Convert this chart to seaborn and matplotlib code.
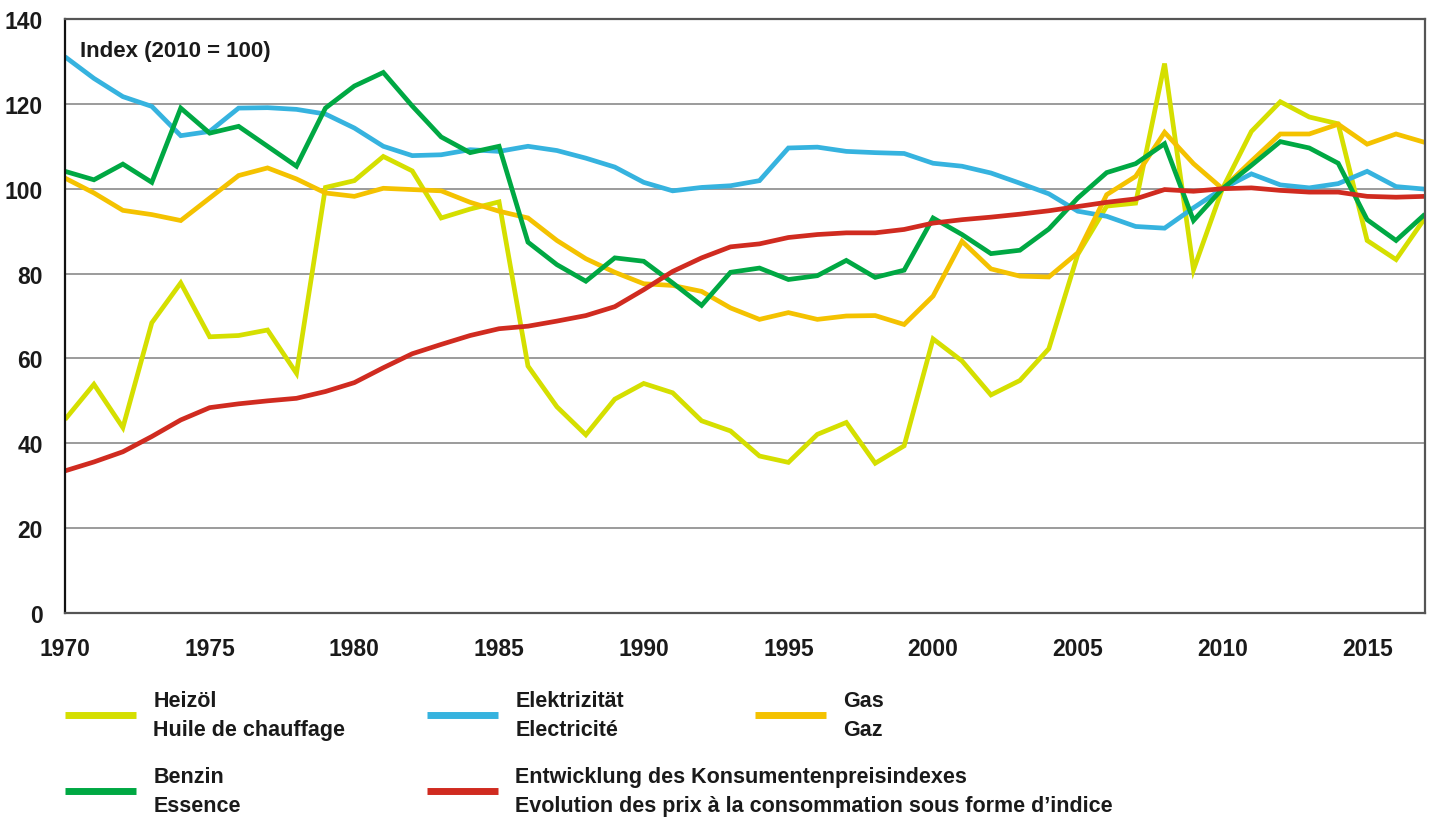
import numpy as np
import pandas as pd
import seaborn as sns
import matplotlib.pyplot as plt
from matplotlib.ticker import MultipleLocator

# Jahre 1970-2017
years = list(range(1970, 2018))

# Index (2010 = 100)
heizoel = [45.6, 53.9, 43.7, 68.4, 77.8, 65.1, 65.4, 66.7, 56.5, 100.3,
           101.9, 107.6, 104.2, 93.1, 95.2, 96.9, 58.2, 48.6, 42.0, 50.4,
           54.1, 51.9, 45.3, 42.9, 37.0, 35.5, 42.1, 44.9, 35.3, 39.4,
           64.6, 59.4, 51.4, 54.8, 62.3, 84.5, 95.9, 96.6, 129.5, 80.9,
           100.0, 113.5, 120.5, 116.9, 115.3, 87.8, 83.3, 93.1]
elektrizitaet = [131.1, 126.0, 121.7, 119.4, 112.5, 113.5, 119.0, 119.1, 118.7, 117.6,
                 114.3, 110.0, 107.8, 108.0, 109.2, 108.8, 110.0, 109.0, 107.2, 105.1,
                 101.5, 99.5, 100.3, 100.7, 101.9, 109.6, 109.8, 108.8, 108.5, 108.3,
                 106.0, 105.3, 103.7, 101.3, 98.8, 94.7, 93.5, 91.1, 90.7, 95.5,
                 100.0, 103.5, 100.9, 100.2, 101.2, 104.1, 100.5, 99.9]
gas = [102.5, 99.0, 94.9, 93.9, 92.5, 97.8, 103.1, 104.9, 102.3, 99.0,
       98.2, 100.1, 99.8, 99.5, 96.8, 94.7, 93.1, 87.8, 83.5, 80.3,
       77.6, 77.2, 75.8, 71.9, 69.2, 70.8, 69.2, 70.0, 70.1, 68.0,
       74.7, 87.6, 81.1, 79.4, 79.2, 84.9, 98.6, 102.9, 113.3, 105.9,
       100.0, 106.5, 112.9, 112.9, 115.2, 110.5, 112.9, 110.9]
benzin = [104.1, 102.1, 105.8, 101.5, 119.0, 113.1, 114.7, 110.0, 105.3, 119.0,
          124.2, 127.4, 119.5, 112.2, 108.5, 110.0, 87.4, 82.1, 78.2, 83.7,
          82.9, 77.8, 72.5, 80.3, 81.3, 78.6, 79.5, 83.1, 79.1, 80.8,
          93.1, 89.2, 84.7, 85.5, 90.5, 97.8, 103.8, 105.9, 110.6, 92.5,
          100.0, 105.5, 111.1, 109.6, 106.0, 92.7, 87.8, 94.0]
lik = [33.5, 35.6, 38.0, 41.6, 45.5, 48.4, 49.3, 50.0, 50.6, 52.2,
       54.3, 57.8, 61.1, 63.3, 65.4, 67.0, 67.6, 68.8, 70.1, 72.2,
       76.2, 80.5, 83.7, 86.3, 87.0, 88.5, 89.2, 89.6, 89.6, 90.4,
       91.9, 92.7, 93.3, 94.0, 94.8, 95.8, 96.8, 97.6, 99.8, 99.4,
       100.0, 100.2, 99.6, 99.2, 99.2, 98.2, 98.0, 98.2]

labels = ["Heizöl\nHuile de chauffage",
          "Elektrizität\nElectricité",
          "Gas\nGaz",
          "Benzin\nEssence",
          "Entwicklung des Konsumentenpreisindexes\nEvolution des prix à la consommation sous forme d’indice"]
colors = ["#d5df00", "#36b3df", "#f4c200", "#00a843", "#d02b20"]

df = pd.DataFrame({"Jahr": years * 5,
                   "Index": heizoel + elektrizitaet + gas + benzin + lik,
                   "Serie": np.repeat(labels, len(years))})

sns.set_style("white")
plt.rcParams["font.family"] = ["Liberation Sans", "DejaVu Sans"]
plt.rcParams["font.weight"] = "bold"
plt.rcParams["lines.solid_joinstyle"] = "miter"
plt.rcParams["lines.solid_capstyle"] = "butt"

fig = plt.figure(figsize=(14.33, 8.2), dpi=100)
ax = fig.add_axes([65 / 1433, 1 - 614 / 820, 1360 / 1433, 594 / 820])

sns.lineplot(data=df, x="Jahr", y="Index", hue="Serie", hue_order=labels,
             palette=colors, linewidth=3.4, ax=ax)
handles, labs = ax.get_legend_handles_labels()
ax.get_legend().remove()

ax.set_xlim(1970, 2017)
ax.set_ylim(0, 140)
ax.set_xlabel("")
ax.set_ylabel("")

ax.yaxis.set_major_locator(MultipleLocator(20))
ax.yaxis.set_minor_locator(MultipleLocator(5))
ax.set_xticks(years)
ax.set_xticklabels([str(y) if y % 5 == 0 else "" for y in years])
ax.tick_params(axis="y", which="both", direction="out", length=12, width=1,
               color="#555555", labelsize=16.5, pad=4)
ax.tick_params(axis="x", which="both", direction="out", length=12, width=1,
               color="#999999", labelsize=16.5, pad=5)
for lab in ax.get_xticklabels() + ax.get_yticklabels():
    lab.set_fontweight("bold")
    lab.set_color("#1a1a1a")

ax.grid(axis="y", color="#8a8a8a", linewidth=1.2)
ax.set_axisbelow(True)
for side in ["top", "right", "bottom"]:
    ax.spines[side].set_color("#555555")
    ax.spines[side].set_linewidth(1.6)
ax.spines["left"].set_color("#111111")
ax.spines["left"].set_linewidth(1.6)

ax.text(0.011, 0.965, "Index (2010 = 100)", transform=ax.transAxes,
        fontsize=16, fontweight="bold", color="#1a1a1a", va="top", ha="left")

# legend, one block per entry
spots = [(65, 716), (427, 716), (755, 716), (65, 792), (427, 792)]
for h, lab, (px, py) in zip(handles, labs, spots):
    h.set_linewidth(5)
    fig.legend([h], [lab], loc="center left",
               bbox_to_anchor=(px / 1433, 1 - py / 820),
               frameon=False, handlelength=3.3, handletextpad=0.8,
               borderpad=0, borderaxespad=0,
               prop={"size": 15.5, "weight": "bold"}, labelspacing=0)
for t in fig.legends:
    for txt in t.get_texts():
        txt.set_linespacing(1.55)
        txt.set_color("#1a1a1a")

fig.savefig("out.png", dpi=100)
